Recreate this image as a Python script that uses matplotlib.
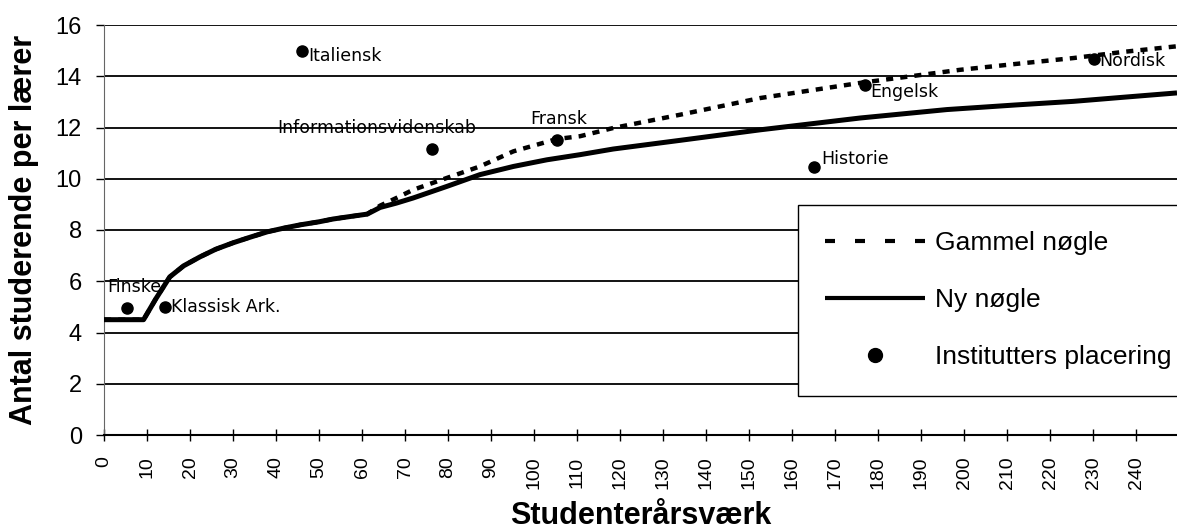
import matplotlib
matplotlib.use("Agg")
import matplotlib.pyplot as plt
from matplotlib.lines import Line2D

# ---- data ----
ny_x = [0, 9.2, 12, 15.3, 18.5, 22.3, 26, 30, 34, 38, 42, 45.6, 50, 53.3, 57, 61.2, 64.2, 68, 71.9,
        79.7, 87.4, 95.2, 103, 110.7, 118.4, 126.2, 134, 152.6, 175.8, 196, 212, 225.4, 237, 249.5]
ny_y = [4.5, 4.5, 5.3, 6.17, 6.6, 6.95, 7.25, 7.5, 7.72, 7.93, 8.08, 8.2, 8.32, 8.43, 8.52, 8.62, 8.88, 9.05, 9.25,
        9.7, 10.16, 10.48, 10.74, 10.94, 11.16, 11.33, 11.5, 11.91, 12.37, 12.7, 12.88, 13.02, 13.18, 13.35]

gl_x = [0, 9.2, 12, 15.3, 18.5, 22.3, 26, 30, 34, 38, 42, 45.6, 50, 53.3, 57, 61.2, 64.2, 68, 71.9,
        79.7, 87.4, 95.2, 105.3, 110.7, 118.4, 126.2, 134, 152.6, 175.8, 199, 212, 225.4, 237, 249.5]
gl_y = [4.5, 4.5, 5.3, 6.17, 6.6, 6.95, 7.25, 7.5, 7.72, 7.93, 8.08, 8.2, 8.32, 8.43, 8.52, 8.62, 8.95, 9.25, 9.57,
        10.03, 10.48, 11.07, 11.55, 11.66, 11.98, 12.24, 12.5, 13.15, 13.74, 14.25, 14.48, 14.71, 14.95, 15.17]

inst_names = ["Finske", "Klassisk Ark.", "Italiensk", "Informationsvidenskab", "Fransk",
              "Historie", "Engelsk", "Nordisk"]
inst_x = [5.3, 14.3, 46.0, 76.2, 105.3, 165.1, 177.0, 230.2]
inst_y = [4.97, 4.99, 15.0, 11.16, 11.52, 10.44, 13.67, 14.68]

x_ticks = list(range(0, 250, 10))
y_ticks = list(range(0, 17, 2))

legend_labels = ["Gammel nøgle", "Ny nøgle", "Institutters placering"]
x_title = "Studenterårsværk"
y_title = "Antal studerende per lærer"

# ---- styling / layout ----
W, H = 1177, 529
fig = plt.figure(figsize=(W / 100, H / 100), dpi=100)
ax = fig.add_axes([104 / W, 94 / H, (W - 104) / W, 410 / H])
ax.set_xlim(0, 249.5)
ax.set_ylim(0, 16)

ax.yaxis.grid(True, color="black", lw=1.3)
ax.set_axisbelow(True)
for s in ("top", "right"):
    ax.spines[s].set_visible(False)
ax.spines["left"].set_color("#666666")
ax.spines["left"].set_linewidth(0.8)
ax.spines["bottom"].set_color("black")
ax.spines["bottom"].set_linewidth(1.5)

ax.set_xticks(x_ticks)
ax.set_xticklabels([str(v) for v in x_ticks], rotation=90,
                   fontfamily="Liberation Sans", fontsize=14)
ax.set_yticks(y_ticks)
ax.set_yticklabels([str(v) for v in y_ticks], fontfamily="Liberation Sans", fontsize=17)
ax.tick_params(axis="x", direction="inout", length=9, width=1, pad=11)
ax.tick_params(axis="y", direction="out", length=6, width=1, pad=10)

ax.plot(ny_x, ny_y, color="black", lw=3.6, solid_capstyle="butt", zorder=3)
ax.plot(gl_x, gl_y, color="black", lw=3.2, dashes=(1.6, 1.6), dash_capstyle="butt", zorder=4)
ax.plot(inst_x, inst_y, "o", color="black", ms=8, zorder=5)

offsets = {
    "Finske": (-20, 21, "left"),
    "Klassisk Ark.": (6, 0, "left"),
    "Italiensk": (6, -5, "left"),
    "Informationsvidenskab": (-55, 21, "center"),
    "Fransk": (2, 21, "center"),
    "Historie": (7, 8, "left"),
    "Engelsk": (5, -7, "left"),
    "Nordisk": (5, -2, "left"),
}
for n, xv, yv in zip(inst_names, inst_x, inst_y):
    dx, dy, ha = offsets[n]
    ax.annotate(n, (xv, yv), xytext=(dx, dy), textcoords="offset pixels",
                ha=ha, va="center", fontsize=12.5, fontfamily="DejaVu Sans", zorder=6)

handles = [
    Line2D([], [], color="black", lw=3.0, dashes=(2.4, 4.8), dash_capstyle="butt"),
    Line2D([], [], color="black", lw=3.0, solid_capstyle="butt"),
    Line2D([], [], color="black", marker="o", ms=10, ls="none"),
]
leg = ax.legend(handles, legend_labels, loc="upper left", bbox_to_anchor=(0.647, 0.561),
                prop={"family": "Liberation Sans", "size": 19}, frameon=True, fancybox=False,
                framealpha=1, edgecolor="black", handlelength=3.8, handletextpad=0.4,
                borderpad=1.0, labelspacing=1.25, borderaxespad=0)
leg.get_frame().set_linewidth(1.0)
leg.set_zorder(10)

fig.text(24 / W, (H - 230) / H, y_title, rotation=90, ha="center", va="center",
         fontfamily="Liberation Sans", fontweight="bold", fontsize=22)
fig.text((104 + W) / 2 / W, 5 / H, x_title, ha="center", va="baseline",
         fontfamily="Liberation Sans", fontweight="bold", fontsize=22)

fig.savefig("out.png", dpi=100, facecolor="white")
